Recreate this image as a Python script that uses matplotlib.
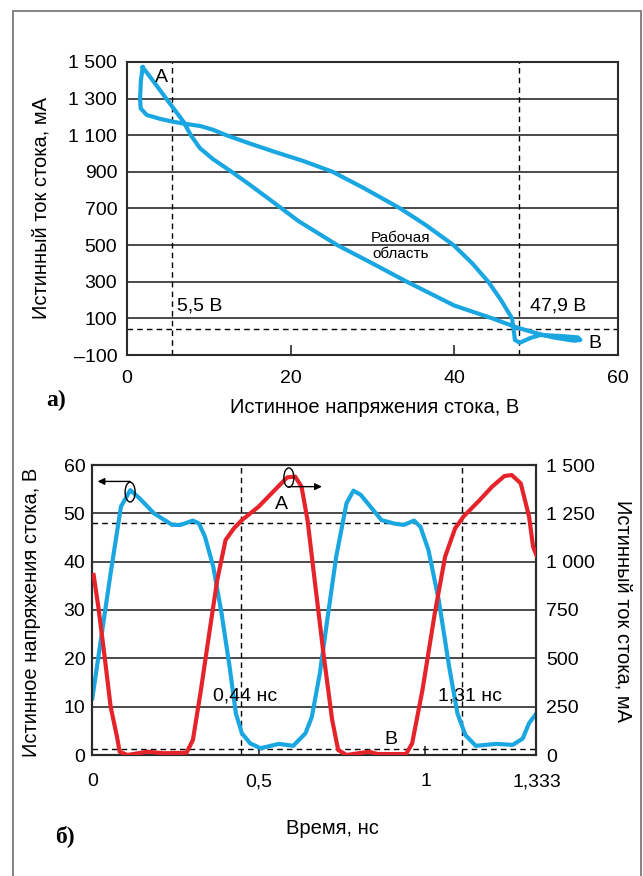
import matplotlib
matplotlib.use("Agg")
import matplotlib.pyplot as plt
from matplotlib.patches import Ellipse, Rectangle
from matplotlib.ticker import FuncFormatter

plt.rcParams['font.family'] = ['Liberation Sans', 'DejaVu Sans']

# --- panel a): drain current vs drain voltage (closed loop A -> B -> A)
loop_v = [1.92, 1.7, 1.6, 1.67, 2.4, 4.0, 5.5, 7.0, 9.0, 10.5, 12.15, 15.0, 18.0, 21.5,
          25.15, 29.0, 33.4, 36.5, 39.9, 42.2, 44.15, 45.7, 47.05, 47.3, 47.4, 48.0,
          49.3, 50.5, 52.9, 55.1, 55.4, 54.6, 52.1, 50.1, 47.6, 44.65, 40.0, 34.2,
          30.0, 25.7, 21.0, 17.5, 15.0, 12.8, 10.5, 8.9, 7.8, 6.9, 5.8, 4.8, 3.8, 2.8, 1.92]
loop_i = [1471, 1400, 1300, 1247, 1211, 1190, 1175, 1163, 1150, 1130, 1100, 1055, 1010, 960,
          900, 810, 700, 610, 500, 400, 300, 200, 100, 20, -18, -33,
          -7, 9, 4, -4, -18, -22, -4, 18, 51, 100, 170, 300,
          400, 500, 630, 747, 830, 900, 970, 1030, 1100, 1174, 1240, 1300, 1360, 1420, 1471]
a_yticks = [-100, 100, 300, 500, 700, 900, 1100, 1300, 1500]
a_xticks = [0, 20, 40, 60]
a_vlines = [5.5, 47.9]
a_hline = 40

# --- panel б): voltage (left axis) and current (right axis) vs time
t_v = [0.0, 0.055, 0.086, 0.114, 0.142, 0.185, 0.24, 0.265, 0.302, 0.32, 0.338, 0.363,
       0.388, 0.412, 0.431, 0.449, 0.474, 0.505, 0.56, 0.603, 0.64, 0.659, 0.683, 0.708,
       0.732, 0.763, 0.784, 0.806, 0.831, 0.868, 0.905, 0.935, 0.966, 0.985, 1.009, 1.04,
       1.071, 1.096, 1.12, 1.151, 1.212, 1.262, 1.292, 1.311, 1.333]
volt = [11.7, 37.6, 51.4, 54.8, 53.1, 50.0, 47.6, 47.6, 48.5, 47.9, 45.2, 39.0,
        29.3, 18.3, 8.6, 4.5, 2.4, 1.4, 2.3, 1.9, 4.5, 7.9, 16.9, 29.3,
        41.0, 52.1, 54.7, 53.8, 51.7, 48.6, 47.9, 47.6, 48.5, 47.2, 42.4, 32.0,
        18.3, 8.6, 4.1, 1.9, 2.3, 2.1, 3.4, 6.6, 8.6]
t_i = [0.004, 0.018, 0.037, 0.055, 0.074, 0.082, 0.105, 0.166, 0.215, 0.283, 0.302, 0.326,
       0.351, 0.375, 0.4, 0.425, 0.449, 0.499, 0.548, 0.585, 0.609, 0.628, 0.646, 0.671,
       0.695, 0.72, 0.738, 0.763, 0.831, 0.856, 0.942, 0.96, 0.991, 1.028, 1.059, 1.089,
       1.114, 1.163, 1.2, 1.237, 1.259, 1.286, 1.311, 1.323, 1.333]
curr = [931, 767, 509, 250, 95, 17, 0, 17, 9, 12, 78, 336,
        629, 905, 1112, 1172, 1215, 1284, 1371, 1436, 1440, 1388, 1215, 853,
        509, 181, 26, 0, 17, 5, 5, 60, 336, 733, 1026, 1172,
        1233, 1319, 1388, 1443, 1448, 1405, 1233, 1078, 1034]
b_xticks = [0, 0.5, 1, 1.333]
b_xlabels = ['0', '0,5', '1', '1,333']
b_yticks = [0, 10, 20, 30, 40, 50, 60]
b_y2ticks = [0, 250, 500, 750, 1000, 1250, 1500]
b_vlines = [0.445, 1.109]
b_hlines = [48, 1.2]

BLUE = '#1aa7e1'
RED = '#e5232b'
GRID = '#2b2b2b'
FS = 14
LFS = 14.5


def thousands(x, pos):
    s = '{:,.0f}'.format(abs(x)).replace(',', ' ')
    return ('\u2013' + s) if x < 0 else s


W, H = 643, 876
fig = plt.figure(figsize=(W / 100, H / 100), dpi=100)

# outer frame
fig.patches.append(Rectangle((13 / W, -0.05), 628 / W, 1.05 - 11 / H, transform=fig.transFigure,
                             fill=False, edgecolor='#7a7a7a', lw=1.3))

# ---------------- panel a)
ax = fig.add_axes([127 / W, 1 - 355 / H, 491 / W, 293 / H])
ax.plot(loop_v, loop_i, color=BLUE, lw=3, solid_joinstyle='round', zorder=3)
for yv in a_yticks[1:-1]:
    ax.axhline(yv, color=GRID, lw=1.2, zorder=1)
for xv in a_vlines:
    ax.axvline(xv, color='k', lw=1, dashes=(4, 3), zorder=2)
ax.axhline(a_hline, color='k', lw=1, dashes=(4, 3), zorder=2)
ax.set_xlim(0, 60)
ax.set_ylim(-100, 1500)
ax.set_xticks(a_xticks)
ax.set_yticks(a_yticks)
ax.yaxis.set_major_formatter(FuncFormatter(thousands))
ax.tick_params(axis='x', direction='in', length=7, width=1.2, color=GRID, pad=11, labelsize=FS)
ax.tick_params(axis='y', length=0, pad=7, labelsize=FS)
for s in ax.spines.values():
    s.set_linewidth(1.5)
    s.set_color(GRID)
ax.text(4.24, 1417, 'A', fontsize=FS, ha='center', va='center')
ax.text(57.2, -36, 'B', fontsize=FS, ha='center', va='center')
ax.text(8.9, 168, '5,5 В', fontsize=FS, ha='center', va='center')
ax.text(52.7, 168, '47,9 В', fontsize=FS, ha='center', va='center')
ax.text(33.4, 495, 'Рабочая\nобласть', fontsize=11, ha='center', va='center', linespacing=1.2)

fig.text(41 / W, 1 - 208 / H, 'Истинный ток стока, мА', rotation=90, ha='center', va='center', fontsize=LFS)
fig.text(375 / W, 1 - 407 / H, 'Истинное напряжения стока, В', ha='center', va='center', fontsize=LFS)
fig.text(56 / W, 1 - 400 / H, 'а)', ha='center', va='center', fontsize=17, fontweight='bold',
         family='Liberation Serif')

# ---------------- panel б)
bx = fig.add_axes([92.3 / W, 1 - 755 / H, 444.1 / W, 290 / H])
bx2 = bx.twinx()
bx.plot(t_v, volt, color=BLUE, lw=3, solid_joinstyle='round', zorder=3)
bx2.plot(t_i, curr, color=RED, lw=3, solid_joinstyle='round', zorder=3)
for yv in b_yticks[1:-1]:
    bx.axhline(yv, color=GRID, lw=1.2, zorder=1)
for xv in b_vlines:
    bx.axvline(xv, color='k', lw=1, dashes=(4, 3), zorder=2)
for yv in b_hlines:
    bx.axhline(yv, color='k', lw=1, dashes=(4, 3), zorder=2)
bx.set_xlim(0, 1.333)
bx.set_ylim(0, 60)
bx2.set_ylim(0, 1500)
bx.set_xticks(b_xticks)
bx.set_xticklabels(b_xlabels)
bx.set_yticks(b_yticks)
bx2.set_yticks(b_y2ticks)
bx2.yaxis.set_major_formatter(FuncFormatter(thousands))
bx.tick_params(axis='x', direction='in', length=6.5, width=1.2, color=GRID, pad=13, labelsize=FS)
bx.tick_params(axis='y', length=0, pad=5, labelsize=FS)
bx2.tick_params(axis='y', length=0, pad=7, labelsize=FS)
for a in (bx, bx2):
    for s in a.spines.values():
        s.set_linewidth(1.5)
        s.set_color(GRID)

# markers showing which axis each curve belongs to
bx.add_patch(Ellipse((0.1135, 54.4), 0.030, 4.1, fill=False, edgecolor='k', lw=1, zorder=5))
bx.annotate('', xy=(0.016, 56.6), xytext=(0.1135, 56.6),
            arrowprops=dict(arrowstyle='-|>', color='k', lw=1, mutation_scale=10, shrinkA=0, shrinkB=0))
bx2.add_patch(Ellipse((0.590, 1435), 0.030, 100, fill=False, edgecolor='k', lw=1, zorder=5))
bx2.annotate('', xy=(0.689, 1388), xytext=(0.590, 1388),
             arrowprops=dict(arrowstyle='-|>', color='k', lw=1, mutation_scale=10, shrinkA=0, shrinkB=0))

bx.text(0.569, 51.9, 'A', fontsize=FS, ha='center', va='center', zorder=6)
bx.text(0.897, 3.2, 'B', fontsize=FS, ha='center', va='center', zorder=6)
bx.text(0.46, 12.3, '0,44 нс', fontsize=FS, ha='center', va='center', zorder=6)
bx.text(1.135, 12.3, '1,31 нс', fontsize=FS, ha='center', va='center', zorder=6)

fig.text(32 / W, 1 - 612 / H, 'Истинное напряжения стока, В', rotation=90, ha='center', va='center', fontsize=LFS)
fig.text(623 / W, 1 - 611 / H, 'Истинный ток стока, мА', rotation=-90, ha='center', va='center', fontsize=LFS)
fig.text(332 / W, 1 - 828 / H, 'Время, нс', ha='center', va='center', fontsize=LFS)
fig.text(65 / W, 1 - 836 / H, 'б)', ha='center', va='center', fontsize=17, fontweight='bold',
         family='Liberation Serif')

fig.savefig('out.png', dpi=100)
